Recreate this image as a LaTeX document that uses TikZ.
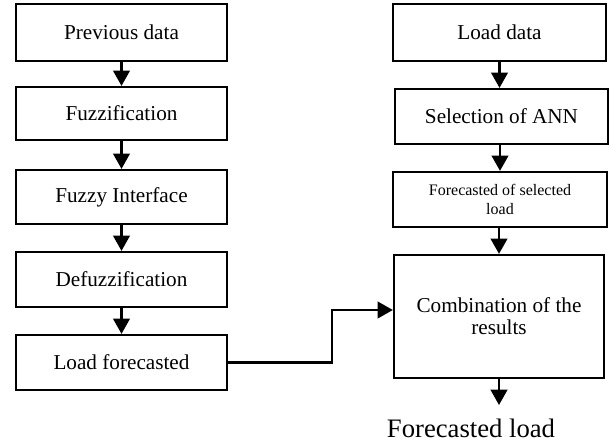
\documentclass[tikz,border=0pt]{standalone}
\usepackage{fontspec}
\setmainfont{Liberation Serif}
\usetikzlibrary{arrows.meta}
\begin{document}
\begin{tikzpicture}[x=0.75pt,y=-0.75pt,
  box/.style={draw, line width=1.7pt, inner sep=0pt, align=center, font=\fontsize{15.9}{16.5}\selectfont},
  lcol/.style={box, minimum width=158.25pt},
  arr/.style={line width=1.7pt, -{Triangle[width=12.5pt,length=11.5pt]}}]
\useasboundingbox (0,0) rectangle (609,443);
% left column
\node[lcol, minimum height=42.75pt] (prev) at (121.5,32.5) {Previous data};
\node[lcol, minimum height=39.75pt] (fuzz) at (121.5,113.5) {Fuzzification};
\node[lcol, minimum height=40.5pt] (fint) at (121.5,197) {Fuzzy Interface};
\node[lcol, minimum height=41.25pt] (defuz) at (121.5,279.5) {Defuzzification};
\node[lcol, minimum height=41.25pt] (loadf) at (121.5,362.5) {Load forecasted};
% right column
\node[box, minimum width=159.75pt, minimum height=42.75pt] (loadd) at (499.5,32.5) {Load data};
\node[box, minimum width=159.75pt, minimum height=41.25pt] (sel) at (501.5,116.5) {Selection of ANN};
\node[box, minimum width=160.5pt, minimum height=41.25pt, font=\fontsize{12}{14.25}\selectfont] (fsel) at (500,199.5) {Forecasted of selected\\load};
\node[box, minimum width=157.5pt, minimum height=92.25pt] (comb) at (499,316.5) {Combination of the\\results};
\node[anchor=base, inner sep=0pt, font=\fontsize{20}{24}\selectfont] (fl) at (471,437.5) {Forecasted load};
% arrows
\draw[arr] (prev) -- (fuzz);
\draw[arr] (fuzz) -- (fint);
\draw[arr] (fint) -- (defuz);
\draw[arr] (defuz) -- (loadf);
\draw[arr] (loadd.south) -- (loadd.south |- sel.north);
\draw[arr] (sel.south -| fsel.north) -- (fsel.north);
\draw[arr] (fsel.south -| comb.north) -- (comb.north);
\coordinate (j) at (332,310);
\draw[arr] (loadf.east) -| (j) -- (j -| comb.west);
\coordinate (out) at (499,405);
\draw[arr] (comb.south) -- (out);
\end{tikzpicture}
\end{document}
